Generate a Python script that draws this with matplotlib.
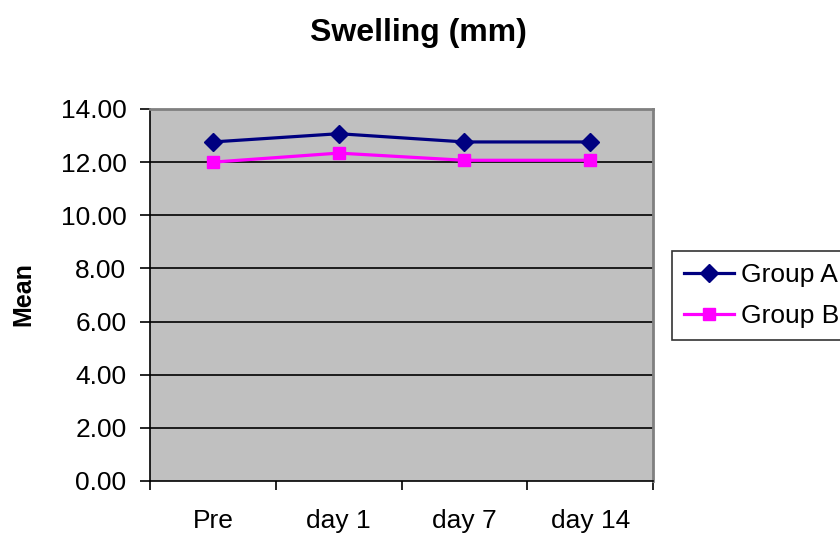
import matplotlib
matplotlib.use("Agg")
from matplotlib import pyplot as plt
import numpy as np

plt.rcParams["font.family"] = ["Liberation Sans", "DejaVu Sans"]

days = ["Pre", "day 1", "day 7", "day 14"]
group_a = [12.76, 13.07, 12.76, 12.76]
group_b = [12.00, 12.34, 12.07, 12.07]
y_ticks = [0, 2, 4, 6, 8, 10, 12, 14]

fig = plt.figure(figsize=(8.4, 5.33), dpi=100)
ax = fig.add_axes([0.1786, 0.0976, 0.5988, 0.6979])
ax.set_facecolor("#C0C0C0")

x = np.arange(len(days))
ax.plot(x, group_a, color="#000080", lw=2.3, marker="D", ms=9,
        label="Group A", zorder=3)
ax.plot(x, group_b, color="#FF00FF", lw=2.3, marker="s", ms=9,
        label="Group B", zorder=3)

ax.set_xlim(-0.5, len(days) - 0.5)
ax.set_ylim(0, 14)
ax.set_yticks(y_ticks)
ax.set_yticklabels([f"{v:.2f}" for v in y_ticks], fontsize=19)
for v in y_ticks[1:-1]:
    ax.axhline(v, color="black", lw=1.2, zorder=1)

# category labels sit between the boundary ticks
ax.set_xticks(np.arange(len(days) + 1) - 0.5)
ax.set_xticklabels([])
ax.set_xticks(x, minor=True)
ax.set_xticklabels(days, minor=True, fontsize=19)
ax.tick_params(axis="x", which="minor", length=0, pad=20)
ax.tick_params(axis="x", which="major", length=6.5, width=1.2, direction="out")
ax.tick_params(axis="y", length=7, width=1.2, direction="out", pad=10)

for side in ("left", "bottom"):
    ax.spines[side].set_color("black")
    ax.spines[side].set_linewidth(1.2)
for side in ("top", "right"):
    ax.spines[side].set_color("#808080")
    ax.spines[side].set_linewidth(2)

fig.text(23 / 840, 1 - 294 / 533, "Mean", rotation=90, ha="center",
         va="center", fontsize=18, fontweight="bold")
fig.text(0.4976, 0.938, "Swelling (mm)", ha="center", va="center",
         fontsize=23, fontweight="bold")

leg = fig.legend(loc="upper left", bbox_to_anchor=(672 / 840, 1 - 251 / 533),
                 fontsize=19, frameon=True, fancybox=False, handlelength=1.9,
                 borderpad=0.45, labelspacing=0.65, handletextpad=0.27,
                 borderaxespad=0)
leg.get_frame().set_edgecolor("black")
leg.get_frame().set_linewidth(1.2)

fig.savefig("out.png", dpi=100)
